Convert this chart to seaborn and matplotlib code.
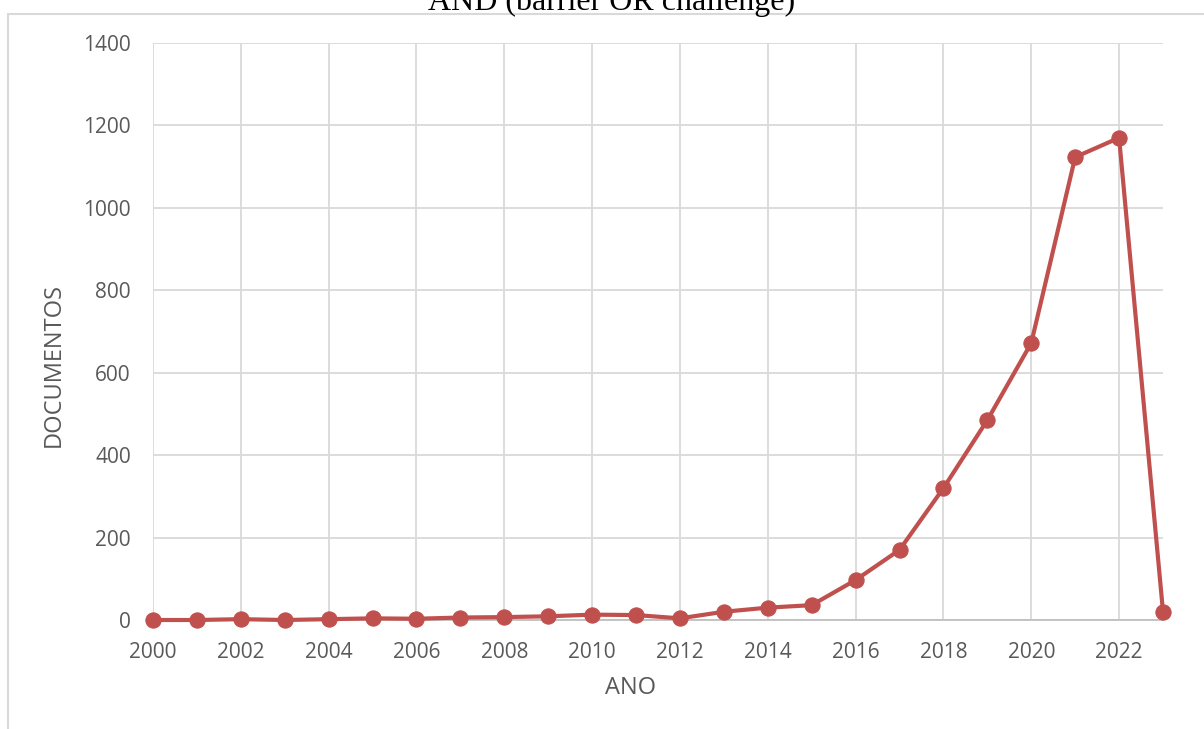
import pandas as pd
import matplotlib
matplotlib.use("Agg")
import matplotlib.pyplot as plt
from matplotlib.patches import Rectangle
import seaborn as sns

anos = list(range(2000, 2024))
documentos = [0, 0, 2, 0, 2, 4, 3, 6, 7, 9, 13, 12, 4, 20, 30, 36,
              97, 170, 320, 485, 672, 1123, 1170, 20]
xticks = list(range(2000, 2023, 2))
yticks = [0, 200, 400, 600, 800, 1000, 1200, 1400]

df = pd.DataFrame({"ANO": anos, "DOCUMENTOS": documentos})

sns.set_style("white")
plt.rcParams["font.family"] = ["Open Sans", "DejaVu Sans"]

fig = plt.figure(figsize=(12.04, 7.29), dpi=100)
ax = fig.add_axes([153 / 1204, 1 - 620 / 729, (1163 - 153) / 1204, (620 - 43) / 729])

# outer chart frame (runs off the bottom/right of the image)
fig.patches.append(Rectangle((8 / 1204, -0.1), 1.2, 1.1 - 14 / 729,
                             transform=fig.transFigure, fill=False,
                             edgecolor="#d9d9d9", linewidth=1.5))

sns.lineplot(data=df, x="ANO", y="DOCUMENTOS", ax=ax, color="#C0504D",
             marker="o", markersize=11, linewidth=3,
             markeredgecolor="#C0504D", clip_on=False, zorder=3)

ax.set_xlim(2000, 2023)
ax.set_ylim(0, 1400)
ax.set_xticks(xticks)
ax.set_yticks(yticks)
ax.grid(True, color="#d9d9d9", linewidth=1.3)
ax.set_axisbelow(True)
for s in ["top", "right", "left"]:
    ax.spines[s].set_visible(False)
ax.spines["bottom"].set_color("#bfbfbf")
ax.spines["bottom"].set_linewidth(1.3)
ax.tick_params(axis="both", length=0, labelsize=15, labelcolor="#595959", pad=16)

ax.set_xlabel("ANO", fontsize=17, color="#595959")
ax.set_ylabel("DOCUMENTOS", fontsize=17, color="#595959")
ax.xaxis.label.set_va("center")
ax.yaxis.label.set_va("center")
ax.xaxis.set_label_coords((631 - 153) / 1010, (620 - 687.5) / 577)
ax.yaxis.set_label_coords((54 - 153) / 1010, (620 - 365) / 577)

fig.text(612 / 1204, 1 - 10 / 729, "AND (barrier OR challenge)",
         family="Liberation Serif", fontsize=23, color="black",
         ha="center", va="baseline")

fig.savefig("out.png", dpi=100)
